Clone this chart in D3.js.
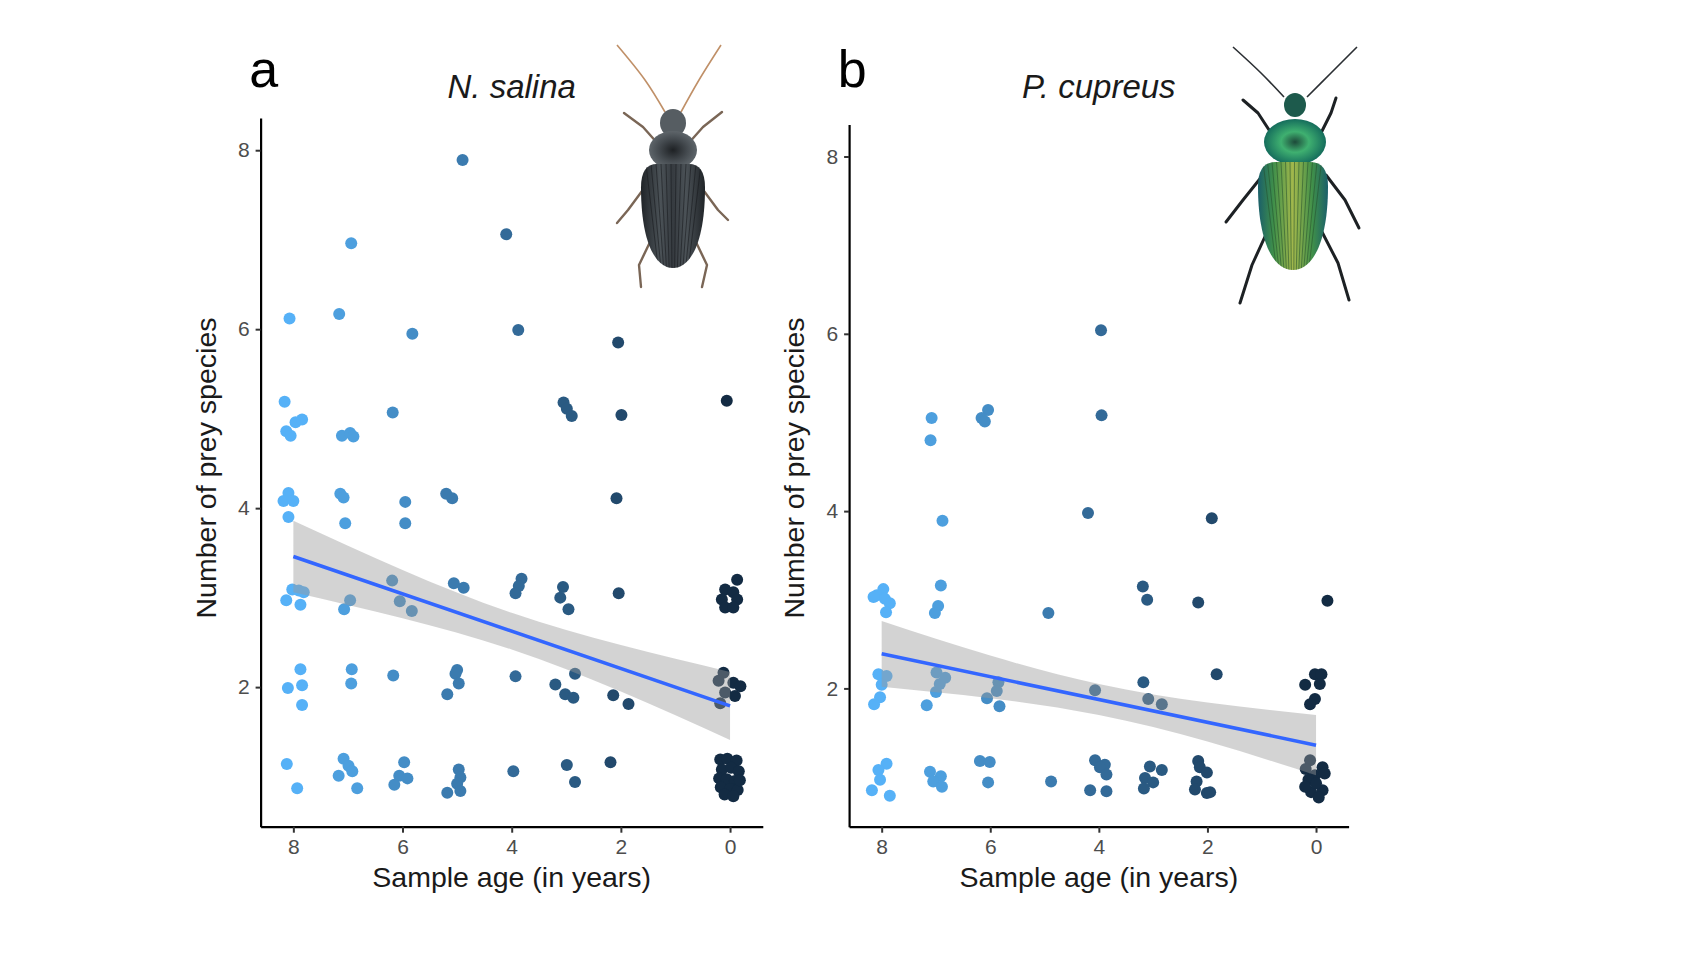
<!DOCTYPE html>
<html>
<head>
<meta charset="utf-8">
<script src="https://cdn.jsdelivr.net/npm/d3@7"></script>
<style>
  body { margin: 0; background: #fff; }
  svg { display: block; }
  text { font-family: "Liberation Sans", Arial, sans-serif; }
</style>
</head>
<body>
<svg id="fig" width="1707" height="960"></svg>
<script>
// tick values shared by both panels
const ageTicks = [8, 6, 4, 2, 0];
const preyTicks = [2, 4, 6, 8];

// N. salina: [sample age (jittered), number of prey species (jittered)]
const salinaPoints = [
  [4.90, 7.89], [4.10, 7.06], [6.94, 6.96], [8.07, 6.12], [7.16, 6.17], [5.82, 5.95], [3.88, 5.99], [2.05, 5.85], [6.18, 5.07],
  [8.16, 5.19], [7.96, 4.96], [7.84, 4.99], [8.13, 4.86], [8.05, 4.81], [7.11, 4.81], [6.96, 4.84], [6.90, 4.80],
  [3.05, 5.18], [2.99, 5.11], [2.90, 5.03], [1.99, 5.04], [0.06, 5.20],
  [8.09, 4.17], [8.18, 4.08], [8.00, 4.08], [8.09, 3.90], [7.14, 4.16], [7.08, 4.12], [7.05, 3.83], [5.95, 4.07],
  [5.95, 3.83], [5.20, 4.16], [5.09, 4.11], [2.08, 4.11],
  [8.02, 3.09], [7.90, 3.08], [7.81, 3.06], [8.13, 2.97], [7.87, 2.92], [6.96, 2.97], [7.07, 2.87], [6.19, 3.19],
  [6.05, 2.96], [5.83, 2.85], [5.06, 3.16], [4.88, 3.11], [3.82, 3.21], [3.87, 3.13], [3.93, 3.05], [3.06, 3.12],
  [3.11, 3.00], [2.96, 2.87], [2.04, 3.05],
  [-0.13, 3.20], [0.09, 3.09], [-0.06, 3.06], [0.15, 2.98], [-0.13, 2.98], [0.09, 2.89], [-0.06, 2.89],
  [7.87, 2.20], [8.10, 1.99], [7.84, 2.02], [7.84, 1.80], [6.93, 2.20], [6.94, 2.04], [6.17, 2.13], [5.00, 2.19],
  [5.03, 2.15], [4.97, 2.04], [5.18, 1.92], [3.93, 2.12], [2.84, 2.15], [3.20, 2.03], [3.02, 1.92], [2.87, 1.88],
  [2.14, 1.91], [1.86, 1.81],
  [0.12, 2.16], [0.21, 2.07], [-0.06, 2.05], [-0.19, 2.01], [0.09, 1.94], [-0.09, 1.90], [0.18, 1.82],
  [8.12, 1.14], [7.93, 0.87], [7.08, 1.20], [6.99, 1.12], [6.92, 1.06], [7.17, 1.01], [6.83, 0.87], [5.97, 1.16],
  [6.06, 1.01], [5.91, 0.98], [6.15, 0.91], [4.97, 1.08], [4.94, 0.99], [5.00, 0.92], [5.18, 0.82], [4.94, 0.84],
  [3.97, 1.06], [2.99, 1.13], [2.84, 0.94], [2.19, 1.16],
  [0.18, 1.19], [0.05, 1.20], [-0.12, 1.18], [0.15, 1.08], [-0.02, 1.10], [-0.16, 1.06], [0.20, 0.98], [0.06, 0.97],
  [-0.09, 0.95], [0.17, 0.88], [0.00, 0.86], [-0.14, 0.85], [0.10, 0.80], [-0.06, 0.78], [-0.18, 0.96]
];

// P. cupreus
const cupreusPoints = [
  [3.96, 6.04], [3.95, 5.08], [7.08, 5.05], [7.10, 4.80], [6.04, 5.14], [6.16, 5.05], [6.10, 5.01],
  [6.88, 3.89], [4.20, 3.98], [1.92, 3.92],
  [7.97, 3.12], [8.09, 3.05], [7.94, 3.01], [7.85, 2.96], [7.92, 2.86], [8.15, 3.03],
  [6.91, 3.16], [6.96, 2.93], [7.02, 2.85], [4.93, 2.85], [3.19, 3.15], [3.11, 3.00], [2.17, 2.97], [-0.21, 2.99],
  [8.06, 2.16], [7.91, 2.14], [8.00, 2.04], [8.03, 1.90], [8.14, 1.82],
  [6.99, 2.18], [6.83, 2.12], [6.93, 2.05], [7.00, 1.96], [7.17, 1.81],
  [5.85, 2.07], [5.88, 1.97], [6.06, 1.89], [5.83, 1.80], [4.07, 1.98],
  [3.18, 2.07], [3.09, 1.88], [2.84, 1.82], [1.83, 2.16],
  [0.20, 2.04], [0.02, 2.16], [-0.10, 2.16], [-0.07, 2.05], [0.02, 1.88], [0.11, 1.82],
  [7.91, 1.15], [8.06, 1.08], [8.03, 0.97], [8.18, 0.85], [7.85, 0.79],
  [7.11, 1.06], [6.91, 1.01], [7.05, 0.95], [6.89, 0.89],
  [6.19, 1.18], [6.01, 1.17], [6.04, 0.94], [4.88, 0.95],
  [4.07, 1.19], [3.89, 1.14], [3.98, 1.11], [3.86, 1.03], [4.16, 0.85], [3.86, 0.84],
  [3.06, 1.12], [2.84, 1.08], [3.15, 0.99], [3.00, 0.94], [3.17, 0.87],
  [2.17, 1.18], [2.14, 1.11], [2.01, 1.05], [2.20, 0.95], [2.23, 0.86], [2.01, 0.82], [1.95, 0.83],
  [0.11, 1.19], [0.19, 1.09], [-0.12, 1.11], [0.02, 1.02], [0.14, 0.97], [-0.16, 1.04], [0.09, 0.83],
  [-0.12, 0.85], [0.00, 0.93], [-0.05, 0.77], [0.20, 0.89]
];

// linear fits and their confidence bands
const fitAges = [8, 0];
const salinaFit = [3.46, 1.79];
const cupreusFit = [2.39, 1.36];
const bandAges = [8, 6, 4, 2, 0];
const salinaLower = [3.06, 2.77, 2.42, 1.95, 1.41];
const salinaUpper = [3.86, 3.31, 2.83, 2.47, 2.17];
const cupreusLower = [2.02, 1.89, 1.70, 1.40, 1.02];
const cupreusUpper = [2.76, 2.37, 2.05, 1.84, 1.70];

const svg = d3.select('#fig');

const defs = svg.append('defs');
const ageColor = d3.scaleLinear().domain([0, 8])
  .range(['#132B43', '#56B1F7'])
  .interpolate(d3.interpolateLab);

const panels = [
  {
    letter: 'a', species: 'N. salina', points: salinaPoints, fit: salinaFit,
    lower: salinaLower, upper: salinaUpper,
    left: 260.6, right: 762.8, top: 118, bottom: 826.7,
    beetle: { kind: 'salina', x: 673, y: 165, s: 1 }
  },
  {
    letter: 'b', species: 'P. cupreus', points: cupreusPoints, fit: cupreusFit,
    lower: cupreusLower, upper: cupreusUpper,
    left: 849.1, right: 1348.6, top: 124.6, bottom: 826.7,
    beetle: { kind: 'cupreus', x: 1293, y: 163, s: 1 }
  }
];

panels.forEach(p => {
  const g = svg.append('g');
  const x = d3.scaleLinear().domain([8.6, -0.6]).range([p.left, p.right]);
  const y = d3.scaleLinear().domain([0.44, 8.36]).range([p.bottom, p.top]);
  const mid = (p.left + p.right) / 2;

  // points first, the smooth layer sits on top of them
  g.append('g').selectAll('circle')
    .data(p.points)
    .join('circle')
    .attr('cx', d => x(d[0]))
    .attr('cy', d => y(d[1]))
    .attr('r', 6)
    .attr('fill', d => ageColor(Math.round(d[0])));

  const band = bandAges.map((a, i) => ({ age: a, lo: p.lower[i], hi: p.upper[i] }));
  g.append('path')
    .datum(band)
    .attr('d', d3.area()
      .x(d => x(d.age))
      .y0(d => y(d.lo))
      .y1(d => y(d.hi))
      .curve(d3.curveNatural))
    .attr('fill', '#999999')
    .attr('fill-opacity', 0.43);

  g.append('path')
    .datum(fitAges.map((a, i) => [a, p.fit[i]]))
    .attr('d', d3.line().x(d => x(d[0])).y(d => y(d[1])))
    .attr('fill', 'none')
    .attr('stroke', '#3366FF')
    .attr('stroke-width', 3.6);

  // axes
  const xAxis = g.append('g')
    .attr('transform', `translate(0,${p.bottom})`)
    .call(d3.axisBottom(x).tickValues(ageTicks).tickFormat(d3.format('d'))
      .tickSize(6).tickSizeOuter(0).tickPadding(6));
  const yAxis = g.append('g')
    .attr('transform', `translate(${p.left},0)`)
    .call(d3.axisLeft(y).tickValues(preyTicks).tickFormat(d3.format('d'))
      .tickSize(5).tickSizeOuter(0).tickPadding(6));

  [xAxis, yAxis].forEach(ax => {
    ax.select('.domain').attr('stroke', '#000').attr('stroke-width', 2.2);
    ax.selectAll('.tick line').attr('stroke', '#333').attr('stroke-width', 2);
    ax.selectAll('.tick text')
      .attr('fill', '#4d4d4d')
      .style('font-size', '21px')
      .style('font-family', '"Liberation Sans", Arial, sans-serif');
  });

  g.append('text')
    .attr('x', mid).attr('y', 887)
    .attr('text-anchor', 'middle')
    .attr('fill', '#1a1a1a')
    .style('font-size', '28.5px')
    .text('Sample age (in years)');

  g.append('text')
    .attr('transform', `translate(${p.left - 45},468) rotate(-90)`)
    .attr('text-anchor', 'middle')
    .attr('fill', '#1a1a1a')
    .style('font-size', '28.5px')
    .text('Number of prey species');

  g.append('text')
    .attr('x', mid).attr('y', 98)
    .attr('text-anchor', 'middle')
    .attr('fill', '#1a1a1a')
    .style('font-size', '33px')
    .style('font-style', 'italic')
    .text(p.species);

  g.append('text')
    .attr('x', p.left + 3).attr('y', 87)
    .attr('text-anchor', 'middle')
    .attr('fill', '#000')
    .style('font-size', '52px')
    .text(p.letter);

  drawBeetle(g, p.beetle);
});

// simple drawings standing in for the beetle photographs
function drawBeetle(g, b) {
  const isCup = b.kind === 'cupreus';
  const id = b.kind;
  const bg = g.append('g').attr('transform', `translate(${b.x},${b.y}) scale(${b.s})`);

  if (isCup) {
    const lg = defs.append('linearGradient').attr('id', id + '-ely');
    [['0%', '#1a5f6a'], ['22%', '#3f8f4a'], ['50%', '#a3b84c'], ['78%', '#3f8f4a'], ['100%', '#1a5f6a']]
      .forEach(s => lg.append('stop').attr('offset', s[0]).attr('stop-color', s[1]));
    const rg = defs.append('radialGradient').attr('id', id + '-pro');
    [['0%', '#1d4a3a'], ['45%', '#3fb070'], ['100%', '#156d5c']]
      .forEach(s => rg.append('stop').attr('offset', s[0]).attr('stop-color', s[1]));
  } else {
    const lg = defs.append('linearGradient').attr('id', id + '-ely');
    [['0%', '#202428'], ['30%', '#4b5257'], ['50%', '#363b40'], ['70%', '#4b5257'], ['100%', '#202428']]
      .forEach(s => lg.append('stop').attr('offset', s[0]).attr('stop-color', s[1]));
    const rg = defs.append('radialGradient').attr('id', id + '-pro');
    [['0%', '#1e2124'], ['60%', '#454b50'], ['100%', '#5e656a']]
      .forEach(s => rg.append('stop').attr('offset', s[0]).attr('stop-color', s[1]));
  }

  const legColor = isCup ? '#1d2124' : '#7a6656';
  const antColor = isCup ? '#2b2f33' : '#c09068';

  const ant = isCup
    ? [[[-9, -66], [-32, -90], [-60, -116]], [[14, -66], [38, -90], [64, -116]]]
    : [[[-8, -53], [-28, -85], [-56, -120]], [[8, -53], [26, -85], [48, -120]]];
  const legs = isCup
    ? [[[-22, -30], [-35, -50], [-50, -63]], [[28, -30], [38, -50], [43, -65]],
       [[-30, 12], [-50, 37], [-67, 59]], [[33, 12], [52, 37], [66, 65]],
       [[-25, 67], [-41, 102], [-53, 140]], [[28, 67], [45, 100], [56, 137]]]
    : [[[-14, -20], [-30, -38], [-49, -52]], [[14, -20], [30, -38], [49, -53]],
       [[-28, 22], [-45, 45], [-56, 58]], [[28, 22], [45, 45], [55, 55]],
       [[-22, 75], [-34, 100], [-32, 122]], [[22, 75], [34, 100], [29, 122]]];

  const line = d3.line().curve(d3.curveCatmullRom);
  bg.selectAll('path.ant').data(ant).join('path')
    .attr('d', line).attr('fill', 'none')
    .attr('stroke', antColor).attr('stroke-width', 1.6);
  bg.selectAll('path.leg').data(legs).join('path')
    .attr('d', d3.line()).attr('fill', 'none')
    .attr('stroke', legColor).attr('stroke-width', isCup ? 3 : 2.4)
    .attr('stroke-linejoin', 'round').attr('stroke-linecap', 'round');

  const head = isCup ? { cx: 2, cy: -58, rx: 11, ry: 12 } : { cx: 0, cy: -42, rx: 13, ry: 14 };
  const pro = isCup ? { cx: 2, cy: -21, rx: 31, ry: 23 } : { cx: 0, cy: -15, rx: 24, ry: 19 };
  const ely = isCup ? { cx: 0, cy: 53, rx: 35, ry: 54 } : { cx: 0, cy: 51, rx: 32, ry: 52 };

  bg.append('ellipse').attr('cx', head.cx).attr('cy', head.cy).attr('rx', head.rx).attr('ry', head.ry)
    .attr('fill', isCup ? '#1d5a4c' : '#565d62');
  bg.append('ellipse').attr('cx', pro.cx).attr('cy', pro.cy).attr('rx', pro.rx).attr('ry', pro.ry)
    .attr('fill', `url(#${id}-pro)`);

  const elyPath = `M${-ely.rx},${ely.cy - ely.ry * 0.55}`
    + ` Q${-ely.rx},${ely.cy - ely.ry} ${-ely.rx * 0.5},${ely.cy - ely.ry}`
    + ` L${ely.rx * 0.5},${ely.cy - ely.ry}`
    + ` Q${ely.rx},${ely.cy - ely.ry} ${ely.rx},${ely.cy - ely.ry * 0.55}`
    + ` C${ely.rx},${ely.cy + ely.ry * 0.5} ${ely.rx * 0.55},${ely.cy + ely.ry} 0,${ely.cy + ely.ry}`
    + ` C${-ely.rx * 0.55},${ely.cy + ely.ry} ${-ely.rx},${ely.cy + ely.ry * 0.5} ${-ely.rx},${ely.cy - ely.ry * 0.55}Z`;
  defs.append('clipPath').attr('id', id + '-clip').append('path').attr('d', elyPath);
  bg.append('path').attr('d', elyPath).attr('fill', `url(#${id}-ely)`);

  const stripes = d3.range(-ely.rx + 5, ely.rx - 3, isCup ? 4.5 : 5);
  bg.append('g').attr('clip-path', `url(#${id}-clip)`)
    .selectAll('line').data(stripes).join('line')
    .attr('x1', d => d).attr('x2', d => d * 0.55)
    .attr('y1', ely.cy - ely.ry).attr('y2', ely.cy + ely.ry)
    .attr('stroke', isCup ? '#24502e' : '#15181b')
    .attr('stroke-opacity', 0.55).attr('stroke-width', 1);
}
</script>
</body>
</html>
